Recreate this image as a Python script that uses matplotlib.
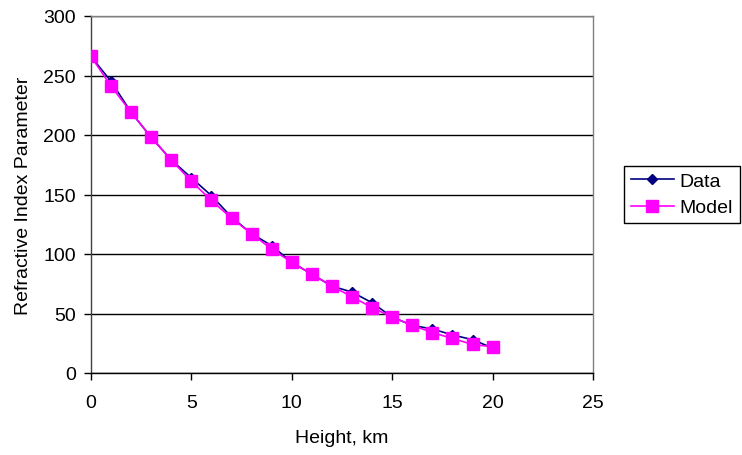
import matplotlib
matplotlib.use('Agg')
import matplotlib.pyplot as plt
import numpy as np

plt.rcParams['font.family'] = ['Liberation Sans', 'DejaVu Sans']

# Height in km
height = [0, 1, 2, 3, 4, 5, 6, 7, 8, 9, 10, 11, 12, 13, 14, 15, 16, 17, 18, 19, 20]
# measured refractive index parameter
data_vals = [266, 245, 219, 198, 179, 164, 149, 131, 117, 107, 93, 83, 73, 68, 59, 47, 40, 37, 32, 28, 21]
# exponential model fit
model_vals = [266, 241, 219, 198, 179, 161, 145, 130, 117, 104, 93, 83, 73, 64, 55, 47, 40, 34, 29, 24, 22]

x_ticks = [0, 5, 10, 15, 20, 25]
y_ticks = [0, 50, 100, 150, 200, 250, 300]

fig = plt.figure(figsize=(7.42, 4.56), dpi=100)
ax = fig.add_axes([91/742, 1 - 374/456, (593-91)/742, (374-17)/456])

ax.plot(height, data_vals, color='#000080', lw=1.2, marker='D', ms=5,
        label='Data', zorder=3)
ax.plot(height, model_vals, color='#FF00FF', lw=1.2, marker='s', ms=8,
        label='Model', zorder=4)

ax.set_xlim(0, 25)
ax.set_ylim(0, 300)
ax.set_xticks(x_ticks)
ax.set_yticks(y_ticks)
ax.yaxis.grid(True, color='black', lw=1)
ax.set_axisbelow(True)

ax.spines['top'].set_color('#808080')
ax.spines['right'].set_color('#808080')
ax.spines['left'].set_color('#404040')
ax.spines['bottom'].set_color('black')
for s in ax.spines.values():
    s.set_linewidth(1)

ax.tick_params(axis='both', direction='out', length=5, width=1, labelsize=14)
ax.tick_params(axis='y', pad=6)
ax.tick_params(axis='x', pad=10)

ax.set_xlabel('Height, km', fontsize=14, labelpad=13)
ax.set_ylabel('Refractive Index Parameter', fontsize=14, labelpad=8)

leg = fig.legend(loc='center left', bbox_to_anchor=(624/742, 1 - 195.5/456),
                 fontsize=14, frameon=True, fancybox=False, framealpha=1,
                 edgecolor='black', borderpad=0.35, handlelength=2.2,
                 handletextpad=0.3, labelspacing=0.45, borderaxespad=0)
leg.get_frame().set_linewidth(1)

fig.savefig('out.png', dpi=100)
